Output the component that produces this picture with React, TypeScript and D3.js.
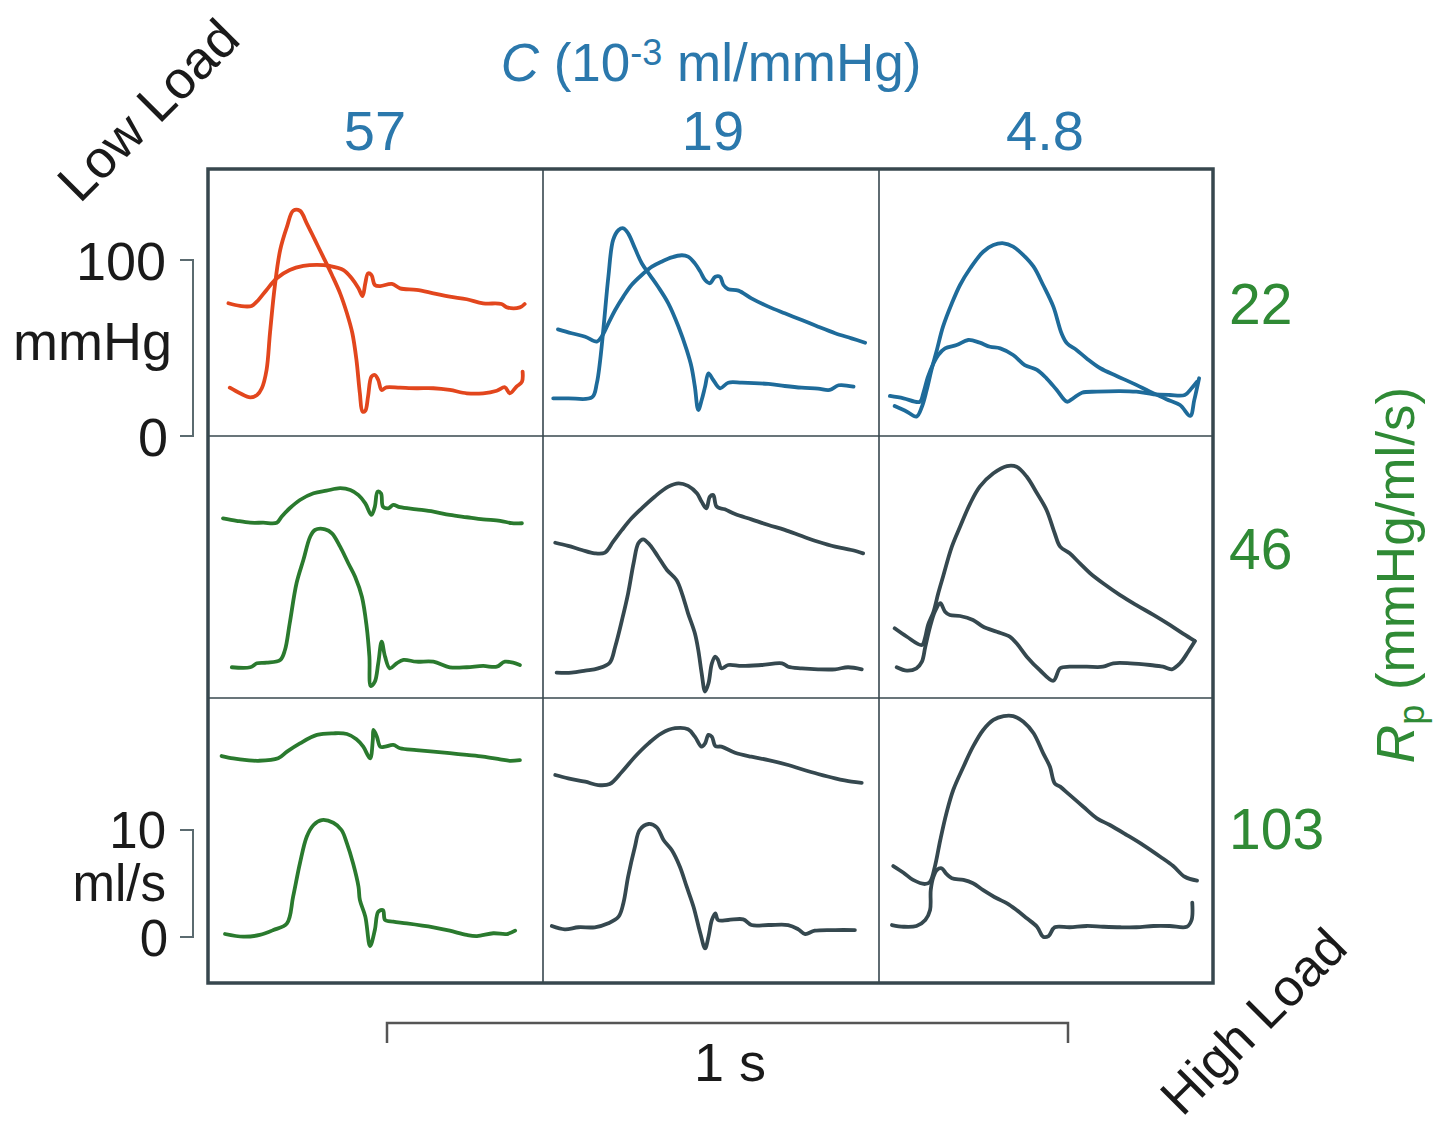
import React from "react";
import * as d3 from "d3";

// ---- Labels ----
const complianceLabels = ["57", "19", "4.8"];
const resistanceLabels = ["22", "46", "103"];

// ---- Traces: [time (ms), value] ; P in mmHg, Q in ml/s ----
const P00 = [[30,75.4],[47,73.9],[64,73.9],[74,77.3],[86,83.0],[101,89.6],[120,94.3],[140,96.6],[160,97.2],[179,96.6],[199,94.3],[211,89.6],[221,83.9],[227,79.5],[231,86.8],[235,92.4],[240,91.5],[245,85.8],[253,85.2],[270,86.4],[282,83.9],[306,83.0],[331,81.1],[355,79.2],[380,77.7],[404,75.4],[431,75.0],[439,73.1],[458,73.1],[465,75.0]];
const Q00 = [[32,0.40],[47,-0.12],[62,-0.50],[72,-0.28],[79,0.35],[86,2.06],[91,5.49],[98,9.84],[106,13.27],[116,15.45],[125,16.94],[135,16.94],[145,15.77],[157,14.21],[169,12.65],[182,10.93],[194,9.22],[204,7.36],[212,5.49],[218,2.99],[223,-0.12],[227,-1.84],[231,-1.75],[235,-0.44],[240,1.43],[245,1.59],[250,1.12],[255,0.19],[262,0.44],[282,0.40],[306,0.35],[331,0.35],[355,0.19],[380,-0.12],[404,-0.12],[424,0.12],[436,0.44],[443,-0.12],[453,0.50],[461,0.96],[462,1.90]];
const P01 = [[22,60.6],[42,58.4],[62,56.4],[79,53.6],[86,56.4],[96,64.0],[106,71.6],[118,79.2],[130,85.8],[145,91.5],[160,96.2],[174,99.0],[189,101.5],[204,102.7],[213,101.9],[223,98.1],[231,93.4],[238,88.6],[245,86.8],[253,90.5],[260,90.5],[265,85.8],[272,83.4],[287,82.6],[306,78.2],[331,73.5],[355,69.7],[380,65.9],[404,62.1],[429,58.4],[453,55.5],[473,53.0]];
const Q01 = [[15,-0.59],[37,-0.59],[72,-0.50],[79,0.81],[84,2.99],[89,6.10],[96,10.78],[103,14.21],[111,15.14],[118,15.30],[125,14.83],[135,13.43],[145,12.03],[157,10.93],[169,9.84],[184,8.29],[199,6.10],[211,3.93],[218,2.36],[223,0.50],[228,-1.68],[233,-0.75],[238,0.50],[243,1.75],[250,1.12],[260,0.35],[272,0.87],[292,0.87],[331,0.75],[355,0.56],[380,0.40],[404,0.31],[421,0.19],[434,0.63],[456,0.50]];
const P02 = [[23,17.0],[41,13.8],[55,11.0],[63,16.6],[70,26.1],[77,37.5],[85,48.9],[94,62.1],[107,75.4],[119,85.8],[134,95.3],[153,104.7],[168,108.5],[183,109.5],[197,107.6],[212,102.8],[227,96.2],[241,85.8],[256,73.5],[268,58.4],[276,52.7],[290,48.9],[305,44.1],[325,38.5],[349,34.1],[373,29.9],[398,25.2],[422,20.9],[442,17.6],[457,11.4],[463,20.5],[470,32.8]];
const Q02 = [[16,-0.37],[36,-0.59],[60,-0.91],[65,-0.12],[72,1.43],[80,2.68],[87,3.46],[97,4.08],[114,4.39],[131,4.86],[148,4.61],[163,4.23],[178,4.08],[197,3.46],[214,2.52],[232,2.06],[246,1.28],[261,0.19],[276,-0.91],[285,-0.59],[298,-0.07],[320,0.03],[354,0.09],[378,0.03],[403,-0.21],[427,-0.28],[449,-0.28],[459,0.35],[467,0.96]];
const P10 = [[22,102.1],[42,100.7],[62,99.6],[81,99.6],[101,99.6],[108,103.0],[120,107.8],[135,112.5],[155,116.3],[174,117.8],[194,119.2],[209,118.2],[221,115.3],[231,110.6],[240,104.0],[245,108.7],[249,117.2],[254,116.3],[257,108.7],[265,107.8],[272,109.7],[282,108.4],[306,107.2],[331,105.9],[355,104.0],[380,102.7],[404,101.5],[429,100.7],[446,99.3],[461,99.3]];
const Q10 = [[35,0.07],[62,0.07],[72,0.44],[86,0.50],[106,0.75],[113,1.68],[120,4.18],[130,7.92],[140,10.09],[150,12.27],[157,12.90],[172,12.96],[182,12.59],[194,11.34],[206,9.79],[216,8.53],[226,6.66],[233,3.86],[237,1.06],[239,-1.68],[245,-1.28],[250,0.44],[255,2.46],[260,1.06],[267,-0.03],[277,0.44],[287,0.75],[306,0.59],[331,0.59],[355,0.07],[380,0.07],[404,0.19],[424,0.12],[436,0.59],[458,0.28]];
const P11 = [[18,88.2],[37,86.4],[57,84.1],[76,82.2],[91,82.6],[103,88.8],[116,95.5],[130,102.1],[145,107.8],[164,114.4],[184,120.1],[199,122.0],[213,120.5],[226,116.3],[233,111.5],[240,107.8],[245,114.4],[250,115.3],[255,108.7],[267,107.2],[282,104.5],[306,101.5],[331,98.3],[355,95.5],[380,92.0],[404,88.8],[429,86.0],[453,84.1],[470,82.2]];
const Q11 = [[20,-0.44],[42,-0.44],[62,-0.25],[81,-0.03],[98,0.50],[106,1.99],[116,4.49],[125,6.98],[133,9.79],[140,11.65],[147,12.03],[157,11.50],[169,10.40],[182,9.16],[196,8.22],[204,6.98],[213,5.11],[223,3.24],[228,1.68],[233,-0.50],[238,-2.21],[243,-1.43],[248,0.44],[253,1.06],[257,0.75],[262,-0.03],[272,0.28],[292,0.19],[321,0.28],[351,0.44],[360,0.12],[380,-0.03],[404,-0.12],[429,-0.12],[448,0.07],[468,-0.12]];
const P12 = [[23,39.6],[41,34.8],[63,30.1],[68,34.8],[72,41.5],[80,49.0],[87,59.5],[94,68.9],[107,86.0],[119,97.3],[134,110.6],[148,120.1],[168,127.7],[188,131.8],[202,131.4],[217,125.7],[232,116.3],[246,106.8],[258,93.6],[266,86.0],[280,82.2],[295,76.5],[310,70.9],[329,65.2],[354,58.5],[378,52.8],[403,47.2],[427,41.5],[447,36.4],[463,32.6]];
const Q12 = [[26,0.07],[41,-0.25],[55,-0.03],[63,0.59],[68,1.99],[75,3.86],[82,5.26],[90,6.05],[97,5.26],[104,4.95],[119,4.86],[138,4.49],[153,3.86],[173,3.39],[192,2.93],[202,2.31],[217,1.06],[236,-0.19],[256,-1.19],[266,-0.03],[280,0.12],[305,0.12],[329,0.12],[344,0.44],[369,0.44],[398,0.28],[417,0.12],[430,-0.12],[442,0.44],[454,1.52],[464,2.52]];
const P20 = [[20,130.1],[37,128.8],[57,127.8],[74,127.4],[103,128.8],[116,132.6],[135,137.3],[160,142.1],[184,143.0],[204,142.6],[218,139.6],[228,135.4],[238,128.8],[242,139.2],[243,144.9],[248,141.1],[253,135.4],[260,135.4],[272,136.4],[282,134.5],[306,133.5],[331,132.6],[355,131.7],[380,130.7],[404,129.7],[429,128.2],[443,127.4],[458,127.8]];
const Q20 = [[25,0.28],[52,0.03],[76,0.19],[96,0.65],[116,1.28],[125,3.77],[135,6.89],[145,9.37],[155,10.47],[167,10.93],[184,10.68],[196,10.00],[204,8.76],[213,6.89],[221,4.70],[223,3.46],[231,1.90],[238,-0.84],[245,0.65],[250,2.36],[257,2.52],[260,1.59],[272,1.43],[292,1.28],[331,0.91],[355,0.59],[380,0.19],[395,0.09],[419,0.35],[439,0.28],[451,0.59]];
const P21 = [[18,119.3],[37,117.4],[62,115.5],[81,113.6],[98,114.2],[116,121.2],[135,129.7],[155,137.3],[174,143.0],[194,145.9],[213,145.3],[223,141.1],[233,135.4],[238,137.3],[243,142.1],[248,141.1],[253,135.8],[262,135.4],[282,132.0],[306,129.7],[331,127.8],[360,125.0],[380,122.6],[404,119.9],[429,117.4],[453,115.5],[468,114.9]];
const Q21 = [[13,1.03],[32,0.72],[52,0.91],[76,0.91],[96,1.28],[111,1.90],[118,3.15],[125,5.64],[135,8.44],[142,10.00],[155,10.56],[167,10.25],[177,9.07],[189,8.13],[201,6.57],[211,4.70],[221,2.83],[231,0.35],[238,-1.06],[243,0.03],[248,1.59],[253,2.21],[257,1.59],[272,1.59],[294,1.65],[306,1.12],[331,1.12],[360,1.12],[375,0.72],[385,0.28],[399,0.59],[429,0.65],[458,0.65]];
const P22 = [[21,67.6],[36,63.8],[50,59.7],[68,57.4],[75,58.7],[82,67.2],[90,82.4],[99,97.6],[109,110.8],[124,124.0],[138,135.4],[153,144.9],[168,150.6],[183,152.8],[197,152.8],[212,149.6],[227,143.0],[241,131.7],[251,124.0],[258,114.6],[266,112.7],[280,108.0],[300,101.3],[320,94.7],[339,90.9],[364,85.2],[388,79.5],[413,72.9],[432,67.6],[449,61.5],[467,59.3]];
const Q22 = [[19,1.12],[36,0.96],[55,1.03],[68,1.59],[75,2.52],[76,4.39],[80,5.64],[85,6.26],[92,6.42],[99,5.89],[107,5.49],[124,5.33],[138,5.02],[153,4.39],[173,3.62],[188,3.15],[202,2.52],[217,1.75],[232,0.96],[241,0.03],[249,0.09],[258,0.91],[280,0.91],[305,1.03],[329,0.96],[354,0.91],[378,0.91],[403,1.03],[427,1.03],[452,0.96],[459,1.59],[460,3.21]];

const pressureTraces = [[P00, P01, P02], [P10, P11, P12], [P20, P21, P22]];
const flowTraces = [[Q00, Q01, Q02], [Q10, Q11, Q12], [Q20, Q21, Q22]];

// ---- Styles & layout ----
const ORANGE = "#e2461d";
const BLUE = "#1e6b9a";
const GREEN = "#2a7a2e";
const SLATE = "#35484f";
const TXT_BLUE = "#2b78ac";
const TXT_GREEN = "#2f8a35";
const FRAME = "#37474e";
const traceColors = [
  [ORANGE, BLUE, BLUE],
  [GREEN, SLATE, SLATE],
  [GREEN, SLATE, SLATE],
];
const FONT = "'Liberation Sans', Arial, Helvetica, sans-serif";

const frame = { left: 208, right: 1213, top: 169, bottom: 983 };
const colEdges = [208, 543, 879, 1213];
const rowEdges = [169, 436, 698, 983];
const pZeroY = [436, 698, 985];
const qZeroY = [392, 668, 937];
const PX_PER_SEC = 681;
const PX_PER_100MMHG = 176;
const PX_PER_10MLS = 107;

export default function App() {
  const xScales = colEdges.slice(0, 3).map((l) =>
    d3.scaleLinear().domain([0, 1000]).range([l, l + PX_PER_SEC])
  );
  const pScales = pZeroY.map((z) => d3.scaleLinear().domain([0, 100]).range([z, z - PX_PER_100MMHG]));
  const qScales = qZeroY.map((z) => d3.scaleLinear().domain([0, 10]).range([z, z - PX_PER_10MLS]));
  const barScale = d3.scaleLinear().domain([0, 1000]).range([387, 387 + PX_PER_SEC]);

  const paths: any[] = [];
  for (let r = 0; r < 3; r++) {
    for (let c = 0; c < 3; c++) {
      const x = xScales[c];
      const lp = d3.line<number[]>().x((d) => x(d[0])).y((d) => pScales[r](d[1])).curve(d3.curveCatmullRom.alpha(0.5));
      const lq = d3.line<number[]>().x((d) => x(d[0])).y((d) => qScales[r](d[1])).curve(d3.curveCatmullRom.alpha(0.5));
      paths.push(
        <path key={`p${r}${c}`} d={lp(pressureTraces[r][c] as any) || ""} fill="none" stroke={traceColors[r][c]} strokeWidth={3.8} strokeLinejoin="round" strokeLinecap="round" />
      );
      paths.push(
        <path key={`q${r}${c}`} d={lq(flowTraces[r][c] as any) || ""} fill="none" stroke={traceColors[r][c]} strokeWidth={3.8} strokeLinejoin="round" strokeLinecap="round" />
      );
    }
  }

  const p0 = pScales[0](0), p100 = pScales[0](100);
  const q0 = qScales[2](0), q10 = qScales[2](10);
  const colCenters = [375, 713, 1045];
  const rowLabelY = [324, 569, 849];

  return (
    <svg width={1435} height={1129} style={{ position: "absolute", left: 0, top: 0, background: "#fff" }} fontFamily={FONT}>
      <rect x={0} y={0} width={1435} height={1129} fill="#fff" />
      {/* grid */}
      {colEdges.slice(1, 3).map((cx) => (
        <line key={`cv${cx}`} x1={cx} x2={cx} y1={frame.top} y2={frame.bottom} stroke={FRAME} strokeWidth={1.6} />
      ))}
      {rowEdges.slice(1, 3).map((ry) => (
        <line key={`rh${ry}`} x1={frame.left} x2={frame.right} y1={ry} y2={ry} stroke={FRAME} strokeWidth={1.6} />
      ))}
      <rect x={frame.left} y={frame.top} width={frame.right - frame.left} height={frame.bottom - frame.top} fill="none" stroke={FRAME} strokeWidth={3.5} />
      {paths}

      {/* left brackets */}
      <path d={`M180,${p100}H193V${p0}H180`} fill="none" stroke="#5b6b70" strokeWidth={2} />
      <path d={`M180,${q10}H193V${q0}H180`} fill="none" stroke="#5b6b70" strokeWidth={2} />
      <g fill="#1a1a1a" fontSize={54} textAnchor="end">
        <text x={166} y={p100 + 20}>100</text>
        <text x={172} y={360}>mmHg</text>
        <text x={168} y={p0 + 20}>0</text>
      </g>
      <g fill="#1a1a1a" fontSize={51} textAnchor="end">
        <text x={166} y={q10 + 18}>10</text>
        <text x={166} y={901}>ml/s</text>
        <text x={168} y={q0 + 19}>0</text>
      </g>

      {/* top labels */}
      <text x={711} y={81} textAnchor="middle" fontSize={53} fill={TXT_BLUE}>
        <tspan fontStyle="italic">C</tspan>
        <tspan> (10</tspan>
        <tspan dy={-16} fontSize={36}>-3</tspan>
        <tspan dy={16}> ml/mmHg)</tspan>
      </text>
      {complianceLabels.map((s, i) => (
        <text key={s} x={colCenters[i]} y={150} textAnchor="middle" fontSize={56} fill={TXT_BLUE}>{s}</text>
      ))}

      {/* right labels */}
      {resistanceLabels.map((s, i) => (
        <text key={s} x={1229} y={rowLabelY[i]} fontSize={57} fill={TXT_GREEN}>{s}</text>
      ))}
      <text transform="translate(1414,575) rotate(-90)" textAnchor="middle" fontSize={53} fill={TXT_GREEN}>
        <tspan fontStyle="italic">R</tspan>
        <tspan dy={10} fontSize={36}>p</tspan>
        <tspan dy={-10}> (mmHg/ml/s)</tspan>
      </text>

      {/* diagonal load labels */}
      <text transform="translate(161,123) rotate(-45)" textAnchor="middle" fontSize={53} fill="#1a1a1a">Low Load</text>
      <text transform="translate(1266,1034) rotate(-45)" textAnchor="middle" fontSize={52} fill="#1a1a1a">High Load</text>

      {/* time scale bar */}
      <path d={`M${barScale(0)},1043V1023H${barScale(1000)}V1043`} fill="none" stroke="#555" strokeWidth={2.5} />
      <text x={730} y={1081} textAnchor="middle" fontSize={54} fill="#1a1a1a">1 s</text>
    </svg>
  );
}
